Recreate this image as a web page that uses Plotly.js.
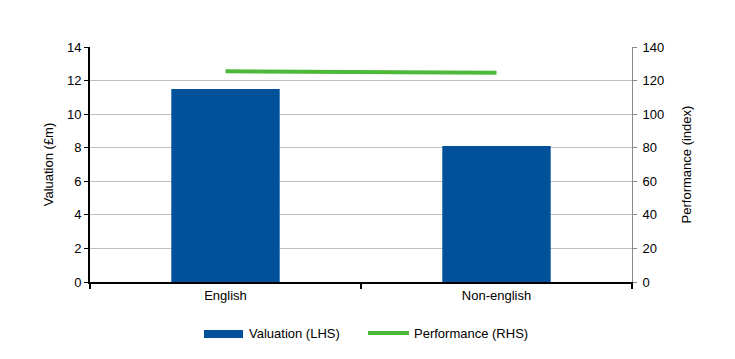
<!DOCTYPE html>
<html><head><meta charset="utf-8">
<script src="https://cdn.plot.ly/plotly-3.0.1.min.js"></script>
<style>html,body{margin:0;padding:0;background:#fff}#chart{width:735px;height:359px}</style>
</head><body><div id="chart"></div>
<script>
const categories = ["English", "Non-english"];
const valuation = [11.5, 8.1];
const performance = [125.5, 124.7];
const yTicksLeft = [0, 2, 4, 6, 8, 10, 12, 14];
const yTicksRight = [0, 20, 40, 60, 80, 100, 120, 140];
const seriesNames = ["Valuation (LHS)", "Performance (RHS)"];

const blue = "#00519A";
const green = "#4DB93A";
const font = {family: "Liberation Sans, Arial, sans-serif", size: 13, color: "#000"};

const data = [
  {type: "bar", x: categories, y: valuation, name: seriesNames[0], marker: {color: blue}, width: 0.4, showlegend: false},
  {type: "scatter", mode: "lines", x: categories, y: performance, name: seriesNames[1], yaxis: "y2", line: {color: green, width: 4}, showlegend: false}
];

const layout = {
  width: 735, height: 359,
  margin: {l: 90, r: 103, t: 47, b: 77},
  paper_bgcolor: "#fff", plot_bgcolor: "#fff",
  font: font,
  showlegend: false,
  xaxis: {
    type: "category", showline: true, linecolor: "#000", linewidth: 2,
    ticks: "outside", tickson: "boundaries", ticklen: 5, tickcolor: "#000", tickwidth: 2,
    showgrid: false, zeroline: false, tickfont: font
  },
  yaxis: {
    range: [0, 14], tickvals: yTicksLeft, showline: true, linecolor: "#000", linewidth: 2,
    ticks: "outside", ticklen: 4, tickcolor: "#000", tickwidth: 1,
    showgrid: true, gridcolor: "#BFBFBF", gridwidth: 1, zeroline: false,
    tickfont: font, title: {text: "Valuation (£m)", font: font, standoff: 10}
  },
  yaxis2: {
    range: [0, 140], tickvals: yTicksRight, overlaying: "y", side: "right",
    showline: true, linecolor: "#888", linewidth: 1,
    ticks: "outside", ticklen: 4, tickcolor: "#888", tickwidth: 1,
    showgrid: false, zeroline: false, ticklabelstandoff: 3,
    tickfont: font, title: {text: "Performance (index)", font: font, standoff: 18}
  },
  shapes: [
    {type: "rect", xref: "paper", yref: "paper", x0: (204-90)/542, x1: (243-90)/542, y0: -(330-282)/235, y1: -(338-282)/235, fillcolor: blue, line: {width: 0}},
    {type: "line", xref: "paper", yref: "paper", x0: (368-90)/542, x1: (409-90)/542, y0: -(333-282)/235, y1: -(333-282)/235, line: {color: green, width: 4}}
  ],
  annotations: [
    {xref: "paper", yref: "paper", x: (247-90)/542, y: -(333-282)/235, xanchor: "left", yanchor: "middle", text: seriesNames[0], showarrow: false, font: font},
    {xref: "paper", yref: "paper", x: (412-90)/542, y: -(333-282)/235, xanchor: "left", yanchor: "middle", text: seriesNames[1], showarrow: false, font: font}
  ]
};

Plotly.newPlot("chart", data, layout, {displayModeBar: false, staticPlot: true});
</script>
</body></html>
